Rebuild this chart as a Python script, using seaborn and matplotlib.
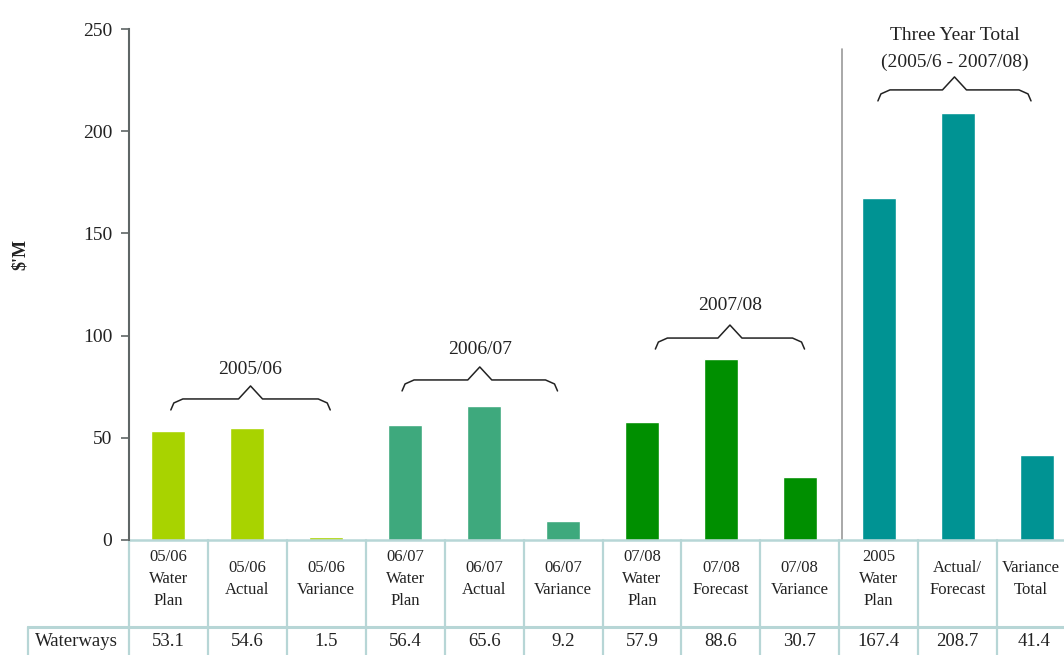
import matplotlib
matplotlib.use("Agg")
import matplotlib.pyplot as plt
import matplotlib.transforms as mtransforms
import pandas as pd
import seaborn as sns

# Waterways spending, $ millions
categories = [
    "05/06\nWater\nPlan", "05/06\nActual", "05/06\nVariance",
    "06/07\nWater\nPlan", "06/07\nActual", "06/07\nVariance",
    "07/08\nWater\nPlan", "07/08\nForecast", "07/08\nVariance",
    "2005\nWater\nPlan", "Actual/\nForecast", "Variance\nTotal",
]
waterways = [53.1, 54.6, 1.5, 56.4, 65.6, 9.2, 57.9, 88.6, 30.7, 167.4, 208.7, 41.4]
value_labels = ["53.1", "54.6", "1.5", "56.4", "65.6", "9.2",
                "57.9", "88.6", "30.7", "167.4", "208.7", "41.4"]
row_label = "Waterways"
group_labels = ["2005/06", "2006/07", "2007/08", "Three Year Total\n(2005/6 - 2007/08)"]
y_ticks = [0, 50, 100, 150, 200, 250]

group_colors = ["#a8d300", "#3ea97d", "#008f00", "#009393"]
bar_colors = [c for c in group_colors for _ in range(3)]

sns.set_theme(style="white")
plt.rcParams["font.family"] = ["Liberation Serif", "DejaVu Serif"]

fig = plt.figure(figsize=(10.64, 6.55), dpi=100)
W, H = 1064, 655
ax_left, ax_right, ax_bottom, ax_top = 129, 1076, 540, 29
ax = fig.add_axes([ax_left / W, 1 - ax_bottom / H,
                   (ax_right - ax_left) / W, (ax_bottom - ax_top) / H])

df = pd.DataFrame({"category": categories, "value": waterways})
sns.barplot(data=df, x="category", y="value", hue="category",
            palette=bar_colors, legend=False, width=0.43,
            saturation=1, ax=ax)

ax.set_xlim(-0.5, 11.5)
ax.set_ylim(0, 250)
ax.set_yticks(y_ticks)
ax.set_yticklabels([str(t) for t in y_ticks], fontsize=14, color="#222222")
ax.set_xticks([])
ax.set_xlabel("")
ax.set_ylabel("")
for s in ("top", "right", "bottom"):
    ax.spines[s].set_visible(False)
ax.spines["left"].set_color("#5f6666")
ax.spines["left"].set_linewidth(1.5)
ax.tick_params(axis="y", direction="out", length=6, width=1.2,
               color="#5f6666", pad=6, left=True)

fig.text(20 / W, 1 - 255 / H, "\\$'M", rotation=90, fontsize=13,
         fontweight="bold", ha="center", va="center", color="#222222")

# separator between annual figures and three-year totals
ax.plot([8.54, 8.54], [0, 240], color="#9a9a9a", lw=1.2)

# curly braces over each group
px_x = (ax_right - ax_left) / 12.0
px_y = (ax_bottom - ax_top) / 250.0


def brace(x0, x1, yflat, xc=None):
    if xc is None:
        xc = (x0 + x1) / 2
    pts = [(x0, -11), (x0 + 3 / px_x, -4), (x0 + 12 / px_x, 0),
           (xc - 12 / px_x, 0), (xc, 13), (xc + 12 / px_x, 0),
           (x1 - 12 / px_x, 0), (x1 - 3 / px_x, -4), (x1, -11)]
    xs = [p[0] for p in pts]
    ys = [yflat + p[1] / px_y for p in pts]
    ax.plot(xs, ys, color="#222222", lw=1.1, clip_on=False,
            solid_joinstyle="round")


braces = [(0.03, 2.05, 69.0, 83.2), (2.96, 4.93, 78.3, 93.0),
          (6.17, 8.06, 98.8, 114.5), (8.99, 10.93, 220.2, 240.3)]
for (x0, x1, yf, yt), lab in zip(braces, group_labels):
    brace(x0, x1, yf)
    ax.text((x0 + x1) / 2, yt, lab, ha="center", va="center",
            fontsize=14, color="#222222", linespacing=1.75, clip_on=False)

# data table below the plot
trans = mtransforms.blended_transform_factory(ax.transData, ax.transAxes)
line_col = "#b7d6d6"
head_bot = -(627 - ax_bottom) / (ax_bottom - ax_top)
tab_bot = -(700 - ax_bottom) / (ax_bottom - ax_top)
row_left = -0.5 - (ax_left - 28) / px_x

ax.plot([-0.5, 11.5], [0, 0], color=line_col, lw=1.8, transform=trans, clip_on=False)
ax.plot([row_left, 11.5], [head_bot, head_bot], color=line_col, lw=2.2,
        transform=trans, clip_on=False)
ax.plot([row_left, row_left], [head_bot, tab_bot], color=line_col, lw=1.6,
        transform=trans, clip_on=False)
for k in range(13):
    ax.plot([k - 0.5, k - 0.5], [0, tab_bot], color=line_col, lw=1.6,
            transform=trans, clip_on=False)

head_y = -(579 - ax_bottom) / (ax_bottom - ax_top)
val_y = -(641 - ax_bottom) / (ax_bottom - ax_top)
n = len(categories)
for i, (cat, lab) in enumerate(zip(categories, value_labels)):
    # the last column runs past the figure edge, so pull its header in a little
    hx = i - 6 / px_x if i == n - 1 else i
    vx = i - 2 / px_x if i == n - 1 else i
    ax.text(hx, head_y, cat, ha="center", va="center", fontsize=12,
            linespacing=1.5, color="#222222", transform=trans, clip_on=False)
    ax.text(vx, val_y, lab, ha="center", va="center", fontsize=13.5,
            color="#222222", transform=trans, clip_on=False)
ax.text(row_left + 7 / px_x, val_y, row_label, ha="left", va="center",
        fontsize=13.5, color="#222222", transform=trans, clip_on=False)

fig.savefig("out.png", dpi=100)
